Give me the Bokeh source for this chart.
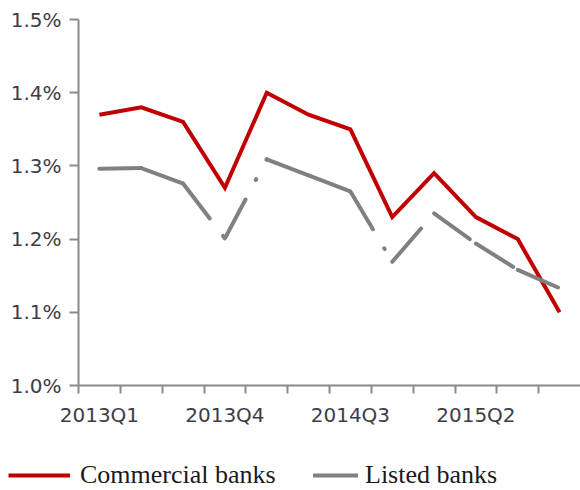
from bokeh.plotting import figure
from bokeh.layouts import column
from bokeh.models import (Range1d, FixedTicker, PrintfTickFormatter, Legend, LegendItem,
                          ColumnDataSource)
from bokeh.embed import file_html
from bokeh.resources import INLINE

quarters = ["2013Q1", "2013Q2", "2013Q3", "2013Q4",
            "2014Q1", "2014Q2", "2014Q3", "2014Q4",
            "2015Q1", "2015Q2", "2015Q3", "2015Q4"]
commercial = [1.37, 1.38, 1.36, 1.27, 1.40, 1.37, 1.35, 1.23, 1.29, 1.23, 1.20, 1.10]
listed = [1.296, 1.297, 1.276, 1.201, 1.309, 1.287, 1.265, 1.169, 1.235, 1.194, 1.158, 1.133]
series_names = ["Commercial banks", "Listed banks"]
y_ticks = [1.0, 1.1, 1.2, 1.3, 1.4, 1.5]
label_step = 3

RED = "#C00000"
GREY = "#808080"
GREY_DASH = "44 22 1 22"

n = len(quarters)
xpos = [i + 0.5 for i in range(n)]

p = figure(width=580, height=445, output_backend="svg", toolbar_location=None,
           x_range=Range1d(0, n), y_range=Range1d(1.0, 1.5),
           min_border_left=78, min_border_right=0, min_border_top=19, min_border_bottom=60)
p.outline_line_color = None
p.grid.grid_line_color = None
p.frame_align = False

# Commercial banks (solid red)
p.line(xpos, commercial, line_color=RED, line_width=4, line_join="miter")

# Listed banks (grey long-dash-dot, pattern restarting on each segment)
seg_src = ColumnDataSource(dict(x0=xpos[:-1], x1=xpos[1:], y0=listed[:-1], y1=listed[1:]))
p.segment("x0", "y0", "x1", "y1", source=seg_src, line_color=GREY,
          line_width=4, line_dash=GREY_DASH, line_cap="round")

# Axes
axis_col = "#8a8a8a"
tick_col = "#3d3d48"

xa = p.xaxis[0]
xa.ticker = FixedTicker(ticks=[xpos[i] for i in range(0, n, label_step)],
                        minor_ticks=list(range(0, n)))
xa.major_label_overrides = {xpos[i]: quarters[i] for i in range(0, n, label_step)}
xa.major_tick_line_color = None
xa.major_tick_in = 0
xa.major_tick_out = 0
xa.minor_tick_in = 0
xa.minor_tick_out = 8
xa.minor_tick_line_color = axis_col
xa.minor_tick_line_width = 2
xa.axis_line_color = axis_col
xa.axis_line_width = 2
xa.major_label_standoff = 9
xa.major_label_text_font = "DejaVu Sans"
xa.major_label_text_font_size = "20px"
xa.major_label_text_color = tick_col

ya = p.yaxis[0]
ya.ticker = FixedTicker(ticks=y_ticks, minor_ticks=[])
ya.formatter = PrintfTickFormatter(format="%.1f%%")
ya.major_tick_in = 0
ya.major_tick_out = 9
ya.major_tick_line_color = axis_col
ya.major_tick_line_width = 2
ya.minor_tick_line_color = None
ya.axis_line_color = axis_col
ya.axis_line_width = 2
ya.major_label_standoff = 8
ya.major_label_text_font = "DejaVu Sans"
ya.major_label_text_font_size = "20px"
ya.major_label_text_color = tick_col

# Legend strip below the chart (series drawn out of view; only legend samples show)
lg = figure(width=580, height=45, output_backend="svg", toolbar_location=None,
            x_axis_type=None, y_axis_type=None, min_border=0,
            x_range=Range1d(0, 1), y_range=Range1d(0, 1))
lg.outline_line_color = None
lg.grid.grid_line_color = None
lg.frame_align = False
r_red = lg.line(xpos, commercial, line_color=RED, line_width=4)
r_grey = lg.line(xpos, listed, line_color=GREY, line_width=4, line_dash=GREY_DASH,
                 line_cap="round")

def make_legend(label, rend, loc, gw, standoff):
    return Legend(items=[LegendItem(label=label, renderers=[rend])], location=loc,
                  glyph_width=gw, glyph_height=20, label_standoff=standoff, padding=0,
                  margin=0, border_line_color=None, background_fill_alpha=0,
                  label_text_font="Liberation Serif", label_text_font_size="26px",
                  label_text_color="#1a1a1a")

lg.add_layout(make_legend(series_names[0], r_red, (8, 0), 62, 10))
lg.add_layout(make_legend(series_names[1], r_grey, (313, 0), 45, 7))

layout = column(p, lg, spacing=0)
open("out.html", "w").write(file_html(layout, INLINE))
